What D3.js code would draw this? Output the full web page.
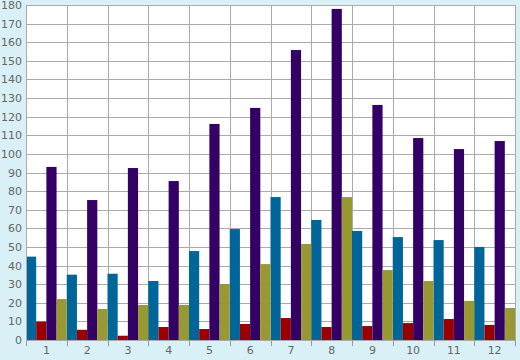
<!DOCTYPE html>
<html><head><meta charset="utf-8">
<script src="https://cdn.jsdelivr.net/npm/d3@7"></script>
<style>html,body{margin:0;padding:0;background:#daf0f7;}svg{display:block;}</style>
</head><body>
<script>
const categories = ["1","2","3","4","5","6","7","8","9","10","11","12"];
const seriesNames = ["blue","red","purple","olive"];
const blueValues   = [44.8, 35.1, 35.6, 31.7, 47.8, 59.6, 76.8, 64.5, 58.6, 55.3, 53.7, 50.0];
const redValues    = [9.9, 5.5, 2.3, 7.0, 5.9, 8.6, 11.8, 7.0, 7.5, 9.1, 11.3, 8.1];
const purpleValues = [93.0, 75.2, 92.4, 85.4, 116.1, 124.7, 155.8, 177.9, 126.3, 108.5, 102.6, 106.9];
const oliveValues  = [22.0, 16.7, 18.8, 18.8, 30.1, 40.8, 51.6, 76.8, 37.6, 31.7, 21.0, 17.2];
const colors = ["#006699", "#990000", "#330066", "#999933"];
const yTicks = [0,10,20,30,40,50,60,70,80,90,100,110,120,130,140,150,160,170,180];

const W = 520, H = 360;
const m = {left: 26, right: 5, top: 5, bottom: 20};
const svg = d3.select("body").append("svg").attr("width", W).attr("height", H);
svg.append("rect").attr("width", W).attr("height", H).attr("fill", "#daf0f7");

const x = d3.scaleBand().domain(categories).range([m.left, W - m.right]).padding(0);
const y = d3.scaleLinear().domain([0, 180]).range([H - m.bottom, m.top]);
const xs = d3.scaleBand().domain(seriesNames).range([0, x.bandwidth()]).padding(0);

svg.append("rect").attr("x", m.left).attr("y", m.top)
  .attr("width", W - m.left - m.right).attr("height", H - m.top - m.bottom).attr("fill", "#fff");

// grid
const g = svg.append("g");
g.selectAll("line.h").data(yTicks).join("line")
  .attr("x1", m.left).attr("x2", W - m.right)
  .attr("y1", d => Math.round(y(d)) + 0.5).attr("y2", d => Math.round(y(d)) + 0.5)
  .attr("stroke", "#aaaaaa").attr("stroke-width", 1);
const bounds = categories.map(c => x(c)).concat([x.range()[1]]);
g.selectAll("line.v").data(bounds).join("line")
  .attr("x1", d => Math.round(d) + 0.5).attr("x2", d => Math.round(d) + 0.5)
  .attr("y1", m.top).attr("y2", H - m.bottom)
  .attr("stroke", "#aaaaaa").attr("stroke-width", 1);

// bars
const allSeries = [blueValues, redValues, purpleValues, oliveValues];
allSeries.forEach((vals, si) => {
  svg.append("g").selectAll("rect").data(vals).join("rect")
    .attr("x", (d, i) => x(categories[i]) + xs(seriesNames[si]))
    .attr("width", xs.bandwidth())
    .attr("y", d => y(d))
    .attr("height", d => y(0) - y(d))
    .attr("fill", colors[si]);
});

// y axis labels
const yAxis = d3.axisLeft(y).tickValues(yTicks).tickSize(0).tickPadding(4);
const ya = svg.append("g").attr("transform", `translate(${m.left},0)`).call(yAxis);
ya.select(".domain").remove();
ya.selectAll("text").attr("font-family", "DejaVu Sans, sans-serif").attr("font-size", 11).attr("fill", "#666");

// x axis
const xAxis = d3.axisBottom(x).tickSize(0).tickPadding(6);
const xa = svg.append("g").attr("transform", `translate(0,${H - m.bottom})`).call(xAxis);
xa.select(".domain").remove();
xa.selectAll("text").attr("font-family", "DejaVu Sans, sans-serif").attr("font-size", 11).attr("fill", "#666");
svg.append("g").selectAll("line").data(bounds).join("line")
  .attr("x1", d => Math.round(d) + 0.5).attr("x2", d => Math.round(d) + 0.5)
  .attr("y1", H - m.bottom).attr("y2", H - m.bottom + 6)
  .attr("stroke", "#999").attr("stroke-width", 1);
// axis lines
svg.append("line").attr("x1", m.left).attr("x2", W - m.right)
  .attr("y1", Math.round(y(0)) + 0.5).attr("y2", Math.round(y(0)) + 0.5).attr("stroke", "#aaa");
svg.append("line").attr("x1", m.left + 0.5).attr("x2", m.left + 0.5)
  .attr("y1", m.top).attr("y2", H - m.bottom).attr("stroke", "#aaa");
</script>
</body></html>
